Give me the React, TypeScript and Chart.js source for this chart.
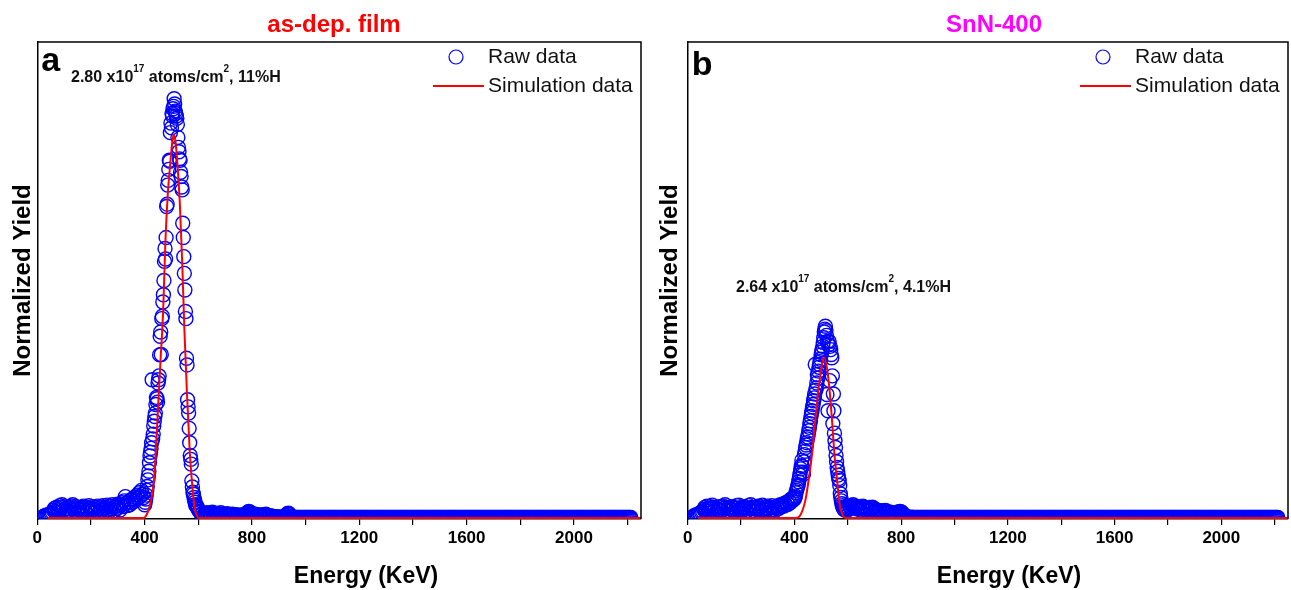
import React, { useEffect, useRef } from "react";
import { Chart, registerables } from "chart.js";

Chart.register(...registerables);

// ---------- axis ranges / ticks ----------
const X_MIN = 0;
const X_MAX = 2250;
const Y_MIN = 0;
const Y_MAX = 1000; // normalized yield, in thousandths
const X_TICK_STEP = 200;
const X_LABEL_STEP = 400;

// ---------- channel calibration of the raw spectra (keV) ----------
const LOW_START = 20;
const LOW_STEP = 4;
const PEAK_START = 400;
const PEAK_STEP = 2;
const HIGH_START = 604;
const HIGH_STEP = 4;
const TAIL_START = 1004;
const TAIL_STEP = 4;

// ---------- panel a : as-dep. film ----------
const rawA_low = [
  4, 6, 5, 8, 7, 9, 8, 10, 12, 14,
  18, 22, 15, 25, 20, 14, 28, 24, 30, 26,
  19, 12, 22, 17, 25, 21, 13, 27, 30, 22,
  18, 26, 15, 23, 20, 12, 24, 18, 27, 21,
  14, 25, 19, 28, 23, 16, 26, 20, 13, 24,
  18, 27, 21, 15, 25, 19, 28, 22, 14, 24,
  29, 20, 16, 26, 21, 30, 24, 17, 27, 22,
  31, 25, 19, 29, 34, 26, 38, 47, 33, 28,
  36, 30, 40, 34, 42, 37, 46, 40, 50, 44,
  55, 48, 60, 52, 45,
];
const rawA_peak = [
  30, 35, 42, 50, 60, 68, 82, 90, 100, 118,
  132, 140, 148, 160, 292, 168, 178, 195, 205, 215,
  222, 240, 255, 252, 245, 285, 292, 300, 344, 383,
  392, 345, 420, 425, 455, 470, 500, 540, 567, 545,
  590, 655, 660, 700, 710, 733, 752, 750, 810, 830,
  820, 850, 845, 860, 865, 881, 870, 855, 850, 845,
  840, 827, 800, 779, 770, 755, 752, 727, 718, 696,
  690, 620, 590, 550, 515, 480, 435, 420, 337, 323,
  250, 235, 222, 190, 160, 133, 125, 115, 80, 67,
  56, 52, 45, 40, 35, 30, 28, 27, 25, 22,
  20,
];
const rawA_high = [
  16, 14, 10, 12, 8, 11, 9, 13, 10, 7,
  11, 9, 14, 10, 8, 12, 9, 7, 11, 8,
  13, 9, 6, 10, 8, 7, 11, 8, 6, 9,
  7, 10, 6, 8, 5, 9, 6, 7, 5, 8,
  6, 9, 7, 10, 12, 14, 16, 15, 13, 11,
  9, 7, 10, 8, 6, 9, 7, 5, 8, 6,
  9, 7, 10, 8, 6, 5, 7, 4, 6, 3,
  5, 4, 3, 5, 3, 4, 3, 3, 4, 3,
  5, 8, 11, 12, 10, 6, 4, 3, 3, 3,
  3, 3, 3, 3, 3, 3, 3, 3, 3, 3,
];
const simA_E = [40, 396, 410, 421, 436, 446, 459, 469, 477, 486, 496, 502, 508, 514, 521, 531, 540, 548, 558, 568, 577, 586, 594, 602, 2250];
const simA_Y = [2, 2, 12, 32, 88, 190, 330, 435, 574, 678, 748, 785, 806, 795, 754, 664, 540, 400, 261, 143, 74, 25, 8, 2, 2];

// ---------- panel b : SnN-400 ----------
const rawB_low = [
  5, 7, 6, 9, 8, 10, 12, 11, 14, 16,
  20, 24, 18, 27, 22, 16, 26, 21, 29, 25,
  18, 23, 14, 20, 26, 19, 24, 17, 27, 22,
  30, 25, 18, 23, 16, 21, 26, 19, 24, 15,
  22, 28, 23, 29, 20, 17, 24, 19, 26, 21,
  15, 23, 28, 22, 30, 24, 18, 22, 16, 25,
  20, 27, 23, 17, 26, 29, 21, 18, 24, 19,
  27, 22, 16, 25, 28, 20, 24, 18, 26, 21,
  28, 23, 30, 26, 31, 27, 33, 29, 35, 31,
  38, 34, 42, 38, 44,
];
const rawB_peak = [
  42, 45, 48, 55, 60, 64, 68, 72, 78, 85,
  92, 98, 105, 112, 123, 110, 98, 94, 120, 135,
  142, 150, 155, 160, 168, 172, 178, 185, 192, 200,
  206, 215, 222, 227, 235, 240, 248, 254, 262, 324,
  270, 275, 285, 303, 295, 310, 318, 324, 330, 335,
  344, 350, 355, 362, 370, 380, 392, 398, 404, 395,
  385, 261, 372, 227, 365, 372, 290, 362, 355, 345,
  338, 300, 200, 262, 227, 180, 164, 150, 133, 120,
  108, 100, 92, 85, 81, 70, 53, 45, 38, 32,
  28, 25, 22, 20, 22, 20, 18, 20, 22, 20,
  19,
];
const rawB_high = [
  22, 26, 24, 28, 30, 27, 23, 26, 21, 25,
  22, 19, 24, 27, 25, 20, 23, 18, 21, 24,
  19, 22, 25, 23, 20, 17, 19, 15, 18, 16,
  13, 17, 14, 16, 18, 17, 14, 12, 15, 11,
  13, 10, 12, 9, 11, 13, 15, 14, 16, 15,
  13, 10, 8, 6, 5, 4, 4, 3, 3, 4,
  3, 3, 3, 3, 3, 3, 3, 3, 3, 3,
  3, 3, 3, 3, 3, 3, 3, 3, 3, 3,
  3, 3, 3, 3, 3, 3, 3, 3, 3, 3,
  3, 3, 3, 3, 3, 3, 3, 3, 3, 3,
];
const simB_E = [40, 405, 422, 441, 453, 466, 478, 491, 503, 512, 522, 532, 541, 550, 560, 569, 578, 586, 595, 2250];
const simB_Y = [2, 2, 8, 39, 81, 136, 206, 275, 324, 338, 317, 268, 206, 136, 81, 32, 12, 4, 2, 2];

// flat high-energy tail shared by both spectra (yield ~ 0.003)
const rawTail = [
  3, 3, 3, 3, 3, 3, 3, 3, 3, 3, 3, 3, 3, 3, 3, 3, 3, 3, 3, 3, 3, 3, 3, 3, 3, 3, 3, 3, 3, 3,
  3, 3, 3, 3, 3, 3, 3, 3, 3, 3, 3, 3, 3, 3, 3, 3, 3, 3, 3, 3, 3, 3, 3, 3, 3, 3, 3, 3, 3, 3,
  3, 3, 3, 3, 3, 3, 3, 3, 3, 3, 3, 3, 3, 3, 3, 3, 3, 3, 3, 3, 3, 3, 3, 3, 3, 3, 3, 3, 3, 3,
  3, 3, 3, 3, 3, 3, 3, 3, 3, 3, 3, 3, 3, 3, 3, 3, 3, 3, 3, 3, 3, 3, 3, 3, 3, 3, 3, 3, 3, 3,
  3, 3, 3, 3, 3, 3, 3, 3, 3, 3, 3, 3, 3, 3, 3, 3, 3, 3, 3, 3, 3, 3, 3, 3, 3, 3, 3, 3, 3, 3,
  3, 3, 3, 3, 3, 3, 3, 3, 3, 3, 3, 3, 3, 3, 3, 3, 3, 3, 3, 3, 3, 3, 3, 3, 3, 3, 3, 3, 3, 3,
  3, 3, 3, 3, 3, 3, 3, 3, 3, 3, 3, 3, 3, 3, 3, 3, 3, 3, 3, 3, 3, 3, 3, 3, 3, 3, 3, 3, 3, 3,
  3, 3, 3, 3, 3, 3, 3, 3, 3, 3, 3, 3, 3, 3, 3, 3, 3, 3, 3, 3, 3, 3, 3, 3, 3, 3, 3, 3, 3, 3,
  3, 3, 3, 3, 3, 3, 3, 3, 3, 3, 3, 3, 3, 3, 3, 3, 3, 3, 3, 3, 3, 3, 3, 3, 3, 3, 3, 3, 3, 3,
  3, 3, 3, 3, 3, 3, 3, 3, 3, 3, 3, 3, 3, 3, 3, 3, 3, 3, 3, 3, 3, 3, 3, 3, 3, 3, 3, 3, 3, 3,
  3, 3, 3,
];

const FONT = "'Liberation Sans', Arial, Helvetica, sans-serif";

type Pt = { x: number; y: number };

function channels(start: number, step: number, ys: number[]): Pt[] {
  return ys.map((y, i) => ({ x: start + i * step, y }));
}

function pairs(xs: number[], ys: number[]): Pt[] {
  return xs.map((x, i) => ({ x, y: ys[i] }));
}

type Part = { t: string; sup?: boolean };

interface PanelCfg {
  title: string;
  titleColor: string;
  titleX: number;
  letter: string;
  letterY: number;
  note: Part[];
  noteX: number;
  noteY: number;
  xTitleX: number;
  padLeft: number;
  padRight: number;
  yTitleTop: number;
  yTitleBottom: number;
  raw: Pt[];
  sim: Pt[];
}

const noteA: Part[] = [
  { t: "2.80 x10" },
  { t: "17", sup: true },
  { t: " atoms/cm" },
  { t: "2", sup: true },
  { t: ", 11%H" },
];
const noteB: Part[] = [
  { t: "2.64 x10" },
  { t: "17", sup: true },
  { t: " atoms/cm" },
  { t: "2", sup: true },
  { t: ", 4.1%H" },
];

const panelA: PanelCfg = {
  title: "as-dep. film",
  titleColor: "#ff0000",
  titleX: 334,
  letter: "a",
  letterY: 71,
  note: noteA,
  noteX: 71,
  noteY: 82,
  xTitleX: 366,
  padLeft: 0,
  padRight: 4,
  yTitleTop: 8.5,
  yTitleBottom: 0,
  raw: [
    ...channels(LOW_START, LOW_STEP, rawA_low),
    ...channels(PEAK_START, PEAK_STEP, rawA_peak),
    ...channels(HIGH_START, HIGH_STEP, rawA_high),
    ...channels(TAIL_START, TAIL_STEP, rawTail),
  ],
  sim: pairs(simA_E, simA_Y),
};

const panelB: PanelCfg = {
  title: "SnN-400",
  titleColor: "#ff00ff",
  titleX: 349,
  letter: "b",
  letterY: 75,
  note: noteB,
  noteX: 91,
  noteY: 292,
  xTitleX: 364,
  padLeft: 0,
  padRight: 3,
  yTitleTop: 10.6,
  yTitleBottom: 3.3,
  raw: [
    ...channels(LOW_START, LOW_STEP, rawB_low),
    ...channels(PEAK_START, PEAK_STEP, rawB_peak),
    ...channels(HIGH_START, HIGH_STEP, rawB_high),
    ...channels(TAIL_START, TAIL_STEP, rawTail),
  ],
  sim: pairs(simB_E, simB_Y),
};

function drawRich(ctx: CanvasRenderingContext2D, x: number, y: number, parts: Part[]) {
  let cx = x;
  for (const p of parts) {
    ctx.font = p.sup ? `bold 10px ${FONT}` : `bold 16px ${FONT}`;
    ctx.fillText(p.t, cx, p.sup ? y - 10 : y);
    cx += ctx.measureText(p.t).width;
  }
}

function makeDecor(cfg: PanelCfg) {
  return {
    id: "decor",
    afterDraw(chart: any) {
      const { ctx, chartArea: a } = chart;
      ctx.save();
      // top and right frame
      ctx.strokeStyle = "#000";
      ctx.lineWidth = 1.5;
      ctx.beginPath();
      ctx.moveTo(a.left, a.top);
      ctx.lineTo(a.right, a.top);
      ctx.lineTo(a.right, a.bottom);
      ctx.stroke();

      ctx.textBaseline = "alphabetic";
      // title
      ctx.fillStyle = cfg.titleColor;
      ctx.textAlign = "center";
      ctx.font = `bold 24px ${FONT}`;
      ctx.fillText(cfg.title, cfg.titleX, 32);

      // x axis title
      ctx.fillStyle = "#000";
      ctx.font = `bold 23px ${FONT}`;
      ctx.fillText("Energy (KeV)", cfg.xTitleX, 583);

      // panel letter
      ctx.textAlign = "left";
      ctx.font = `bold 34px ${FONT}`;
      ctx.fillText(cfg.letter, a.left + 4, cfg.letterY);

      // annotation
      ctx.fillStyle = "#111";
      drawRich(ctx, cfg.noteX, cfg.noteY, cfg.note);

      // legend
      const r = a.right;
      ctx.strokeStyle = "#0000ff";
      ctx.lineWidth = 1.2;
      ctx.beginPath();
      ctx.arc(r - 185, 57, 7, 0, Math.PI * 2);
      ctx.stroke();
      ctx.strokeStyle = "#ff0000";
      ctx.lineWidth = 2;
      ctx.beginPath();
      ctx.moveTo(r - 208, 86);
      ctx.lineTo(r - 157, 86);
      ctx.stroke();
      ctx.fillStyle = "#111";
      ctx.font = `21px ${FONT}`;
      ctx.textBaseline = "middle";
      ctx.fillText("Raw data", r - 153, 57);
      ctx.fillText("Simulation data", r - 153, 86);
      ctx.restore();
    },
  };
}

function Panel({ cfg, left, width }: { cfg: PanelCfg; left: number; width: number }) {
  const ref = useRef<HTMLCanvasElement | null>(null);
  useEffect(() => {
    if (!ref.current) return;
    const chart = new Chart(ref.current, {
      type: "scatter",
      data: {
        datasets: [
          {
            label: "Simulation data",
            data: cfg.sim,
            showLine: true,
            borderColor: "#ff0000",
            borderWidth: 2,
            pointRadius: 0,
            cubicInterpolationMode: "monotone",
          } as any,
          {
            label: "Raw data",
            data: cfg.raw,
            showLine: false,
            pointStyle: "circle",
            pointRadius: 7,
            pointBorderWidth: 1.4,
            pointBorderColor: "#0000ff",
            pointBackgroundColor: "rgba(0,0,0,0)",
            clip: 0,
          } as any,
        ],
      },
      options: {
        responsive: false,
        animation: false,
        devicePixelRatio: 1,
        events: [],
        layout: {
          autoPadding: false,
          padding: { left: cfg.padLeft, right: cfg.padRight, top: 42, bottom: 38.6 },
        },
        plugins: {
          legend: { display: false },
          title: { display: false },
          tooltip: { enabled: false },
        },
        scales: {
          x: {
            type: "linear",
            min: X_MIN,
            max: X_MAX,
            ticks: {
              stepSize: X_TICK_STEP,
              includeBounds: false,
              autoSkip: false,
              maxRotation: 0,
              padding: 3,
              color: "#000",
              font: { family: FONT, size: 17, weight: "bold" },
              callback: (v: any) => (Number(v) % X_LABEL_STEP === 0 ? String(v) : ""),
            },
            grid: { drawOnChartArea: false, drawTicks: true, tickLength: 6, color: "#000", lineWidth: 1.2 },
            border: { color: "#000", width: 1.5 },
          },
          y: {
            type: "linear",
            min: Y_MIN,
            max: Y_MAX,
            ticks: { display: false },
            grid: { drawOnChartArea: false, drawTicks: false },
            border: { color: "#000", width: 1.5 },
            title: {
              display: true,
              text: "Normalized Yield",
              color: "#000",
              font: { family: FONT, size: 24, weight: "bold" },
              padding: { top: cfg.yTitleTop, bottom: cfg.yTitleBottom },
            },
          },
        },
      } as any,
      plugins: [makeDecor(cfg)],
    });
    return () => chart.destroy();
  }, [cfg]);
  return (
    <canvas
      ref={ref}
      width={width}
      height={590}
      style={{ position: "absolute", left, top: 0, width, height: 590 }}
    />
  );
}

export default function App() {
  return (
    <div style={{ position: "fixed", left: 0, top: 0, width: 1291, height: 590, background: "#fff", overflow: "hidden" }}>
      <Panel cfg={panelA} left={0} width={645} />
      <Panel cfg={panelB} left={645} width={646} />
    </div>
  );
}
